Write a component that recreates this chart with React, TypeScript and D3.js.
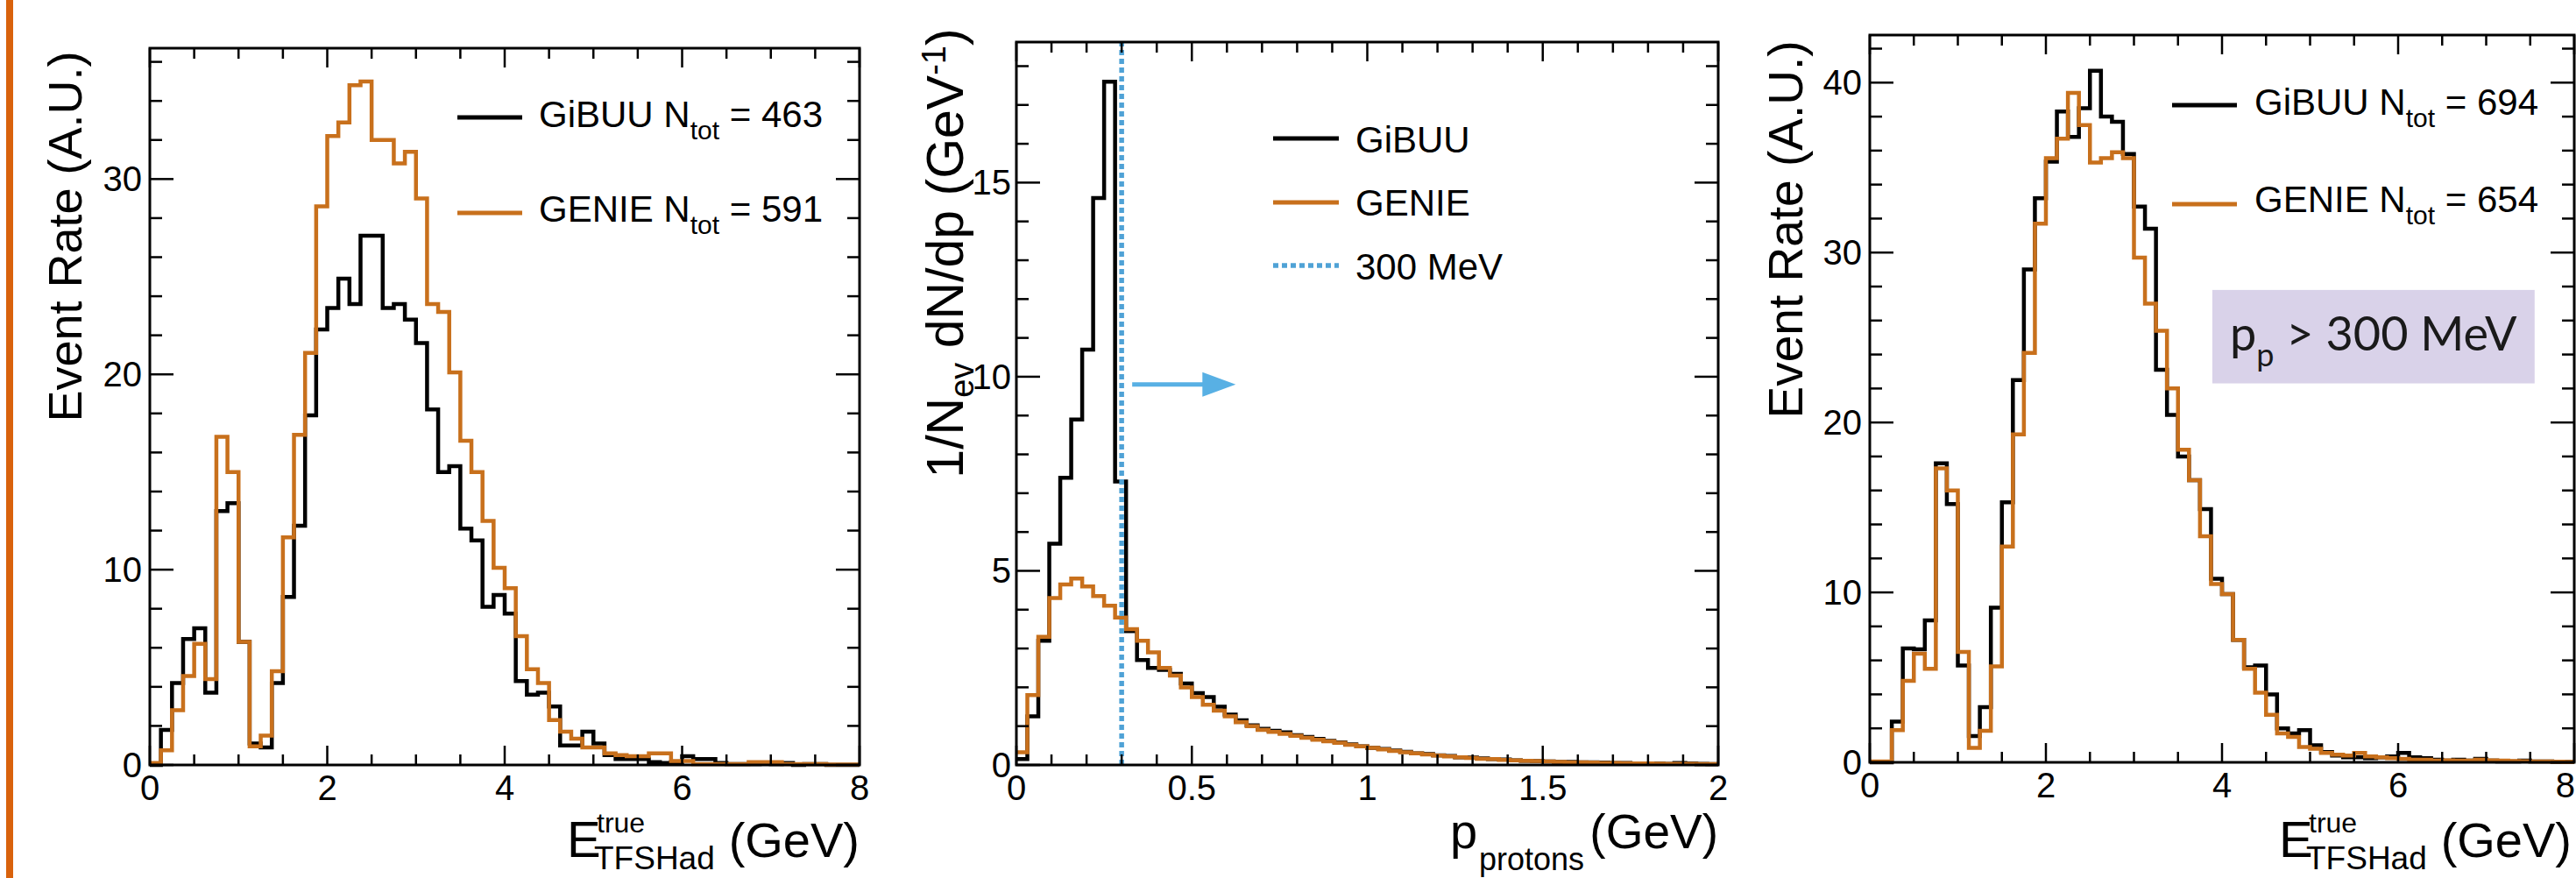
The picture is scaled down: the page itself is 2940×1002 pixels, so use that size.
import React from "react";
import * as d3 from "d3";

// ---------------- data ----------------
const SERIES = ["GiBUU", "GENIE"];

// Panel 1: E_TFSHad true, all events, 64 bins 0-8 GeV
const GIBUU_1 = [
  0, 1.8, 4.2, 6.45, 7.0, 3.7, 13.0, 13.4, 6.3, 1.1,
  0.9, 4.2, 8.6, 12.25, 17.9, 22.3, 23.4, 24.9, 23.6, 27.1,
  27.1, 23.4, 23.6, 22.8, 21.6, 18.2, 15.0, 15.3, 12.1, 11.5,
  8.1, 8.7, 7.75, 4.3, 3.6, 3.7, 3.0, 1.0, 1.0, 1.7,
  1.1, 0.5, 0.3, 0.3, 0.3, 0.15, 0.1, 0.15, 0.45, 0.3,
  0.3, 0.1, 0.05, 0.05, 0.05, 0.1, 0.05, 0.1, 0.0, 0.05,
  0.05, 0.0, 0.0, 0.0,
];
const GENIE_1 = [
  0.1, 0.75, 2.8, 4.55, 6.2, 4.4, 16.8, 15.0, 6.3, 0.95,
  1.5, 4.8, 11.65, 16.9, 21.1, 28.6, 32.2, 32.9, 34.8, 35.0,
  32.0, 32.0, 30.8, 31.4, 29.0, 23.6, 23.2, 20.1, 16.6, 15.0,
  12.5, 10.1, 9.05, 6.6, 4.9, 4.2, 2.3, 1.7, 1.35, 0.9,
  0.9, 0.6, 0.5, 0.45, 0.45, 0.6, 0.6, 0.2, 0.2, 0.05,
  0.05, 0.05, 0.05, 0.05, 0.15, 0.15, 0.15, 0.05, 0.05, 0.05,
  0.05, 0.02, 0.02, 0.02,
];
const NTOT_1 = [463, 591];

// Panel 2: proton momentum, 64 bins 0-2 GeV
const GIBUU_2 = [
  0.15, 1.25, 3.2, 5.7, 7.4, 8.9, 10.7, 14.6, 17.6, 7.3,
  3.45, 2.7, 2.5, 2.45, 2.35, 2.1, 1.85, 1.75, 1.5, 1.3,
  1.15, 1.02, 0.93, 0.88, 0.84, 0.77, 0.72, 0.67, 0.62, 0.58,
  0.53, 0.48, 0.44, 0.41, 0.37, 0.34, 0.3, 0.28, 0.25, 0.23,
  0.2, 0.19, 0.17, 0.15, 0.14, 0.12, 0.11, 0.1, 0.09, 0.08,
  0.08, 0.07, 0.07, 0.06, 0.05, 0.05, 0.04, 0.04, 0.04, 0.03,
  0.05, 0.04, 0.03, 0.02,
];
const GENIE_2 = [
  0.33, 1.8, 3.3, 4.3, 4.65, 4.8, 4.6, 4.35, 4.1, 3.8,
  3.5, 3.2, 2.9, 2.5, 2.3, 2.0, 1.75, 1.55, 1.4, 1.25,
  1.1, 1.0, 0.9, 0.85, 0.8, 0.75, 0.7, 0.65, 0.61, 0.57,
  0.52, 0.48, 0.44, 0.4, 0.36, 0.33, 0.3, 0.27, 0.24, 0.22,
  0.2, 0.18, 0.16, 0.15, 0.13, 0.12, 0.11, 0.1, 0.09, 0.08,
  0.07, 0.065, 0.06, 0.05, 0.05, 0.045, 0.04, 0.04, 0.035, 0.03,
  0.03, 0.03, 0.025, 0.02,
];
const CUT_GEV = 0.3;
const CUT_LABEL = "300 MeV";
const ARROW_FROM = [0.33, 9.8];
const ARROW_TO = [0.625, 9.8];

// Panel 3: E_TFSHad true with p_p > 300 MeV, 64 bins 0-8 GeV
const GIBUU_3 = [
  0, 0, 2.4, 6.7, 6.65, 8.35, 17.6, 15.2, 5.7, 1.55,
  3.25, 9.1, 15.3, 22.5, 29.0, 33.2, 35.35, 38.3, 36.8, 38.5,
  40.7, 38.0, 37.7, 35.8, 32.7, 31.4, 23.1, 20.45, 18.0, 16.6,
  14.9, 10.8, 9.9, 7.2, 5.6, 5.7, 4.0, 2.0, 1.7, 1.9,
  1.0, 0.6, 0.4, 0.3, 0.3, 0.25, 0.3, 0.35, 0.55, 0.3,
  0.25, 0.15, 0.1, 0.15, 0.1, 0.2, 0.1, 0.05, 0.05, 0.1,
  0.05, 0.05, 0.02, 0.02,
];
const GENIE_3 = [
  0.05, 0.05, 1.9, 4.8, 6.4, 5.5, 17.3, 16.0, 6.5, 0.85,
  1.85, 5.65, 12.7, 19.3, 24.1, 31.7, 35.55, 36.7, 39.4, 37.5,
  35.3, 35.55, 35.9, 35.55, 29.7, 27.0, 25.4, 22.0, 18.4, 16.6,
  13.3, 10.5, 9.9, 7.2, 5.5, 4.1, 2.8, 1.7, 1.5, 0.9,
  0.8, 0.55, 0.45, 0.4, 0.55, 0.35, 0.3, 0.25, 0.2, 0.15,
  0.15, 0.1, 0.12, 0.1, 0.1, 0.15, 0.12, 0.1, 0.08, 0.06,
  0.05, 0.05, 0.04, 0.03,
];
const NTOT_3 = [694, 654];
const BOX_X = [3.89, 7.55];
const BOX_Y = [22.3, 27.8];

const X_TICKS_E = [0, 2, 4, 6, 8];
const X_TICKS_P = [0, 0.5, 1, 1.5, 2];
const Y_TICKS_1 = [0, 10, 20, 30];
const Y_TICKS_2 = [0, 5, 10, 15];
const Y_TICKS_3 = [0, 10, 20, 30, 40];

// ---------------- styles ----------------
const W = 2940;
const H = 1002;
const FONT = "'Liberation Sans', Arial, Helvetica, sans-serif";
const BLACK = "#000000";
const ORANGE = "#c8701c";
const SKY = "#58b0e4";
const DOT = "#4fa2d6";
const SIDEBAR = "#d9620c";
const BOXFILL = "#d9d2e9";

type Frame = { l: number; r: number; t: number; b: number };

function Hist({ x, y, values, color }: any) {
  const [x0, x1] = x.domain();
  const n = values.length;
  const bw = (x1 - x0) / n;
  const pts: [number, number][] = values.map((v: number, i: number) => [x0 + i * bw, v]);
  pts.push([x1, values[n - 1]]);
  const line = d3
    .line<[number, number]>()
    .x((d) => x(d[0]))
    .y((d) => y(d[1]))
    .curve(d3.curveStepAfter);
  return <path d={line(pts) || ""} fill="none" stroke={color} strokeWidth={4.5} strokeLinejoin="miter" />;
}

function Axes({ frame, x, y, xMajor, xMinorStep, yMajor, yMinorStep, yGap }: any) {
  const [x0, x1] = x.domain();
  const [y0, y1] = y.domain();
  const xMinor = d3.range(x0, x1 + 1e-9, xMinorStep);
  const yMinor = d3.range(y0, y1 + 1e-9, yMinorStep);
  const tl = { xMaj: 22, xMin: 12, yMaj: 27, yMin: 14 };
  const els: any[] = [];
  xMinor.forEach((v: number, i: number) => {
    const major = xMajor.some((m: number) => Math.abs(m - v) < 1e-6);
    const L = major ? tl.xMaj : tl.xMin;
    const px = x(v);
    els.push(<line key={"xb" + i} x1={px} x2={px} y1={frame.b} y2={frame.b - L} stroke={BLACK} strokeWidth={2.5} />);
    els.push(<line key={"xt" + i} x1={px} x2={px} y1={frame.t} y2={frame.t + L} stroke={BLACK} strokeWidth={2.5} />);
  });
  yMinor.forEach((v: number, i: number) => {
    const major = yMajor.some((m: number) => Math.abs(m - v) < 1e-6);
    const L = major ? tl.yMaj : tl.yMin;
    const py = y(v);
    els.push(<line key={"yl" + i} x1={frame.l} x2={frame.l + L} y1={py} y2={py} stroke={BLACK} strokeWidth={2.5} />);
    els.push(<line key={"yr" + i} x1={frame.r} x2={frame.r - L} y1={py} y2={py} stroke={BLACK} strokeWidth={2.5} />);
  });
  xMajor.forEach((v: number, i: number) => {
    const px = x(v);
    const atEdge = px > W - 14;
    els.push(
      <text
        key={"xl" + i}
        x={atEdge ? W - 1 : px}
        y={frame.b + 40}
        fontSize={40}
        fontFamily={FONT}
        textAnchor={atEdge ? "end" : "middle"}
        fill={BLACK}
      >
        {String(v)}
      </text>
    );
  });
  yMajor.forEach((v: number, i: number) => {
    els.push(
      <text key={"ylab" + i} x={frame.l - yGap} y={y(v) + 14} fontSize={40} fontFamily={FONT} textAnchor="end" fill={BLACK}>
        {String(v)}
      </text>
    );
  });
  els.push(
    <rect key="frame" x={frame.l} y={frame.t} width={frame.r - frame.l} height={frame.b - frame.t} fill="none" stroke={BLACK} strokeWidth={3} />
  );
  return <g>{els}</g>;
}

function YTitle({ x, y, size, children }: any) {
  return (
    <g transform={`translate(${x},${y}) rotate(-90)`}>
      <text x={0} y={0} fontSize={size} fontFamily={FONT} textAnchor="middle" fill={BLACK}>
        {children}
      </text>
    </g>
  );
}

function NtotLegend({ lx, ly, tx, ty, color, name, n }: any) {
  return (
    <g>
      <line x1={lx} x2={lx + 74} y1={ly} y2={ly} stroke={color} strokeWidth={5} />
      <text x={tx} y={ty} fontSize={42} fontFamily={FONT} fill={BLACK}>
        {name} N<tspan dy={14} fontSize={30}>tot</tspan>
        <tspan dy={-14}>{` = ${n}`}</tspan>
      </text>
    </g>
  );
}

function ETitle({ right, base }: any) {
  return (
    <g fontFamily={FONT} fill={BLACK}>
      <text x={right - 334} y={base} fontSize={58}>E</text>
      <text x={right - 300} y={base - 28} fontSize={32}>true</text>
      <text x={right - 303} y={base + 14} fontSize={37}>TFSHad</text>
      <text x={right} y={base} fontSize={56} textAnchor="end">(GeV)</text>
    </g>
  );
}

export default function App() {
  const F1: Frame = { l: 171, r: 981, t: 55, b: 873 };
  const F2: Frame = { l: 1160, r: 1961, t: 48, b: 873 };
  const F3: Frame = { l: 2134, r: 2938, t: 40, b: 870 };

  const x1 = d3.scaleLinear().domain([0, 8]).range([F1.l, F1.r]);
  const y1 = d3.scaleLinear().domain([0, 36.7]).range([F1.b, F1.t]);
  const x2 = d3.scaleLinear().domain([0, 2]).range([F2.l, F2.r]);
  const y2 = d3.scaleLinear().domain([0, 18.62]).range([F2.b, F2.t]);
  const x3 = d3.scaleLinear().domain([0, 8]).range([F3.l, F3.r]);
  const y3 = d3.scaleLinear().domain([0, 42.8]).range([F3.b, F3.t]);

  const ax = x2(ARROW_FROM[0]);
  const ay = y2(ARROW_FROM[1]);
  const tipX = x2(ARROW_TO[0]);
  const headL = 38;
  const headH = 14;

  return (
    <div style={{ position: "fixed", left: 0, top: 0, width: W, height: H, background: "#fff" }}>
      <svg width={W} height={H} viewBox={`0 0 ${W} ${H}`} style={{ display: "block" }}>
        <rect x={0} y={0} width={W} height={H} fill="#ffffff" />
        <rect x={7} y={0} width={8} height={H} fill={SIDEBAR} />

        {/* ---------- Panel 1 ---------- */}
        <Hist x={x1} y={y1} values={GIBUU_1} color={BLACK} />
        <Hist x={x1} y={y1} values={GENIE_1} color={ORANGE} />
        <Axes frame={F1} x={x1} y={y1} xMajor={X_TICKS_E} xMinorStep={0.5} yMajor={Y_TICKS_1} yMinorStep={2} yGap={9} />
        <NtotLegend lx={522} ly={134} tx={615} ty={145} color={BLACK} name={SERIES[0]} n={NTOT_1[0]} />
        <NtotLegend lx={522} ly={243} tx={615} ty={253} color={ORANGE} name={SERIES[1]} n={NTOT_1[1]} />
        <YTitle x={93} y={270} size={54}>Event Rate (A.U.)</YTitle>
        <ETitle right={F1.r} base={978} />

        {/* ---------- Panel 2 ---------- */}
        <Hist x={x2} y={y2} values={GIBUU_2} color={BLACK} />
        <Hist x={x2} y={y2} values={GENIE_2} color={ORANGE} />
        <line x1={x2(CUT_GEV)} x2={x2(CUT_GEV)} y1={y2(0)} y2={F2.t} stroke={DOT} strokeWidth={5.5} strokeDasharray="6 4" />
        <line x1={ax} x2={tipX - headL + 2} y1={ay} y2={ay} stroke={SKY} strokeWidth={5} />
        <path d={`M${tipX},${ay} L${tipX - headL},${ay - headH} L${tipX - headL},${ay + headH} Z`} fill={SKY} />
        <Axes frame={F2} x={x2} y={y2} xMajor={X_TICKS_P} xMinorStep={0.1} yMajor={Y_TICKS_2} yMinorStep={1} yGap={6} />
        <line x1={1453} x2={1528} y1={158} y2={158} stroke={BLACK} strokeWidth={5} />
        <text x={1547} y={174} fontSize={42} fontFamily={FONT}>{SERIES[0]}</text>
        <line x1={1453} x2={1528} y1={231} y2={231} stroke={ORANGE} strokeWidth={5} />
        <text x={1547} y={246} fontSize={42} fontFamily={FONT}>{SERIES[1]}</text>
        <line x1={1453} x2={1528} y1={303} y2={303} stroke={DOT} strokeWidth={5.5} strokeDasharray="6 4" />
        <text x={1547} y={319} fontSize={42} fontFamily={FONT}>{CUT_LABEL}</text>
        <YTitle x={1099} y={289} size={59}>
          1/N<tspan dy={12} fontSize={38}>ev</tspan>
          <tspan dy={-12}> dN/dp (GeV</tspan>
          <tspan dy={-20} fontSize={38}>-1</tspan>
          <tspan dy={20}>)</tspan>
        </YTitle>
        <g fontFamily={FONT} fill={BLACK}>
          <text x={1655} y={968} fontSize={56}>p</text>
          <text x={1688} y={993} fontSize={36}>protons</text>
          <text x={F2.r} y={968} fontSize={55} textAnchor="end">(GeV)</text>
        </g>

        {/* ---------- Panel 3 ---------- */}
        <Hist x={x3} y={y3} values={GIBUU_3} color={BLACK} />
        <Hist x={x3} y={y3} values={GENIE_3} color={ORANGE} />
        <Axes frame={F3} x={x3} y={y3} xMajor={X_TICKS_E} xMinorStep={0.5} yMajor={Y_TICKS_3} yMinorStep={2} yGap={9} />
        <NtotLegend lx={2479} ly={120} tx={2573} ty={131} color={BLACK} name={SERIES[0]} n={NTOT_3[0]} />
        <NtotLegend lx={2479} ly={233} tx={2573} ty={242} color={ORANGE} name={SERIES[1]} n={NTOT_3[1]} />
        <YTitle x={2057} y={262} size={55}>Event Rate (A.U.)</YTitle>
        <ETitle right={F3.r - 3} base={978} />
        <rect
          x={x3(BOX_X[0])}
          y={y3(BOX_Y[1])}
          width={x3(BOX_X[1]) - x3(BOX_X[0])}
          height={y3(BOX_Y[0]) - y3(BOX_Y[1])}
          fill={BOXFILL}
        />
        <text
          x={(x3(BOX_X[0]) + x3(BOX_X[1])) / 2}
          y={400}
          fontSize={54}
          fontFamily="Lato, 'Open Sans', sans-serif"
          textAnchor="middle"
          fill="#1a1a1a"
        >
          p<tspan dy={18} fontSize={36}>p</tspan>
          <tspan dy={-18}>{" > 300 MeV"}</tspan>
        </text>
      </svg>
    </div>
  );
}
